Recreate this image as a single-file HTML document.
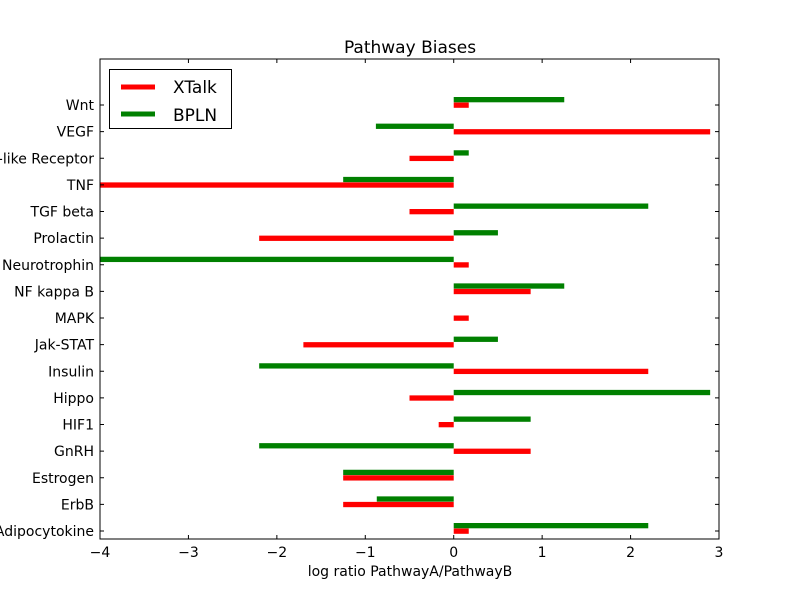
<!DOCTYPE html>
<html><head><meta charset="utf-8"><style>
body{margin:0;background:#fff;}
svg{display:block;font-family:"DejaVu Sans","Liberation Sans",sans-serif;}
</style></head><body>
<svg id="chart" width="800" height="600" viewBox="0 0 800 600">
<rect width="800" height="600" fill="#fff"/>
<g id="plot"></g>
</svg>
<script>
const categories=["Adipocytokine","ErbB","Estrogen","GnRH","HIF1","Hippo","Insulin","Jak-STAT","MAPK","NF kappa B","Neurotrophin","Prolactin","TGF beta","TNF","Toll-like Receptor","VEGF","Wnt"];
const xtalkValues=[0.17,-1.25,-1.25,0.87,-0.17,-0.5,2.2,-1.7,0.17,0.87,0.17,-2.2,-0.5,-4,-0.5,2.9,0.17];
const bplnValues=[2.2,-0.87,-1.25,-2.2,0.87,2.9,-2.2,0.5,0,1.25,-4,0.5,2.2,-1.25,0.17,-0.88,1.25];
const xTicks=[-4,-3,-2,-1,0,1,2,3];
const xTickLabels=["\u22124","\u22123","\u22122","\u22121","0","1","2","3"];
const NS="http://www.w3.org/2000/svg";
const L=100,R=719,T=59,B=539;
const xScale=v=>L+(v+4)/7*(R-L);
const yScale=i=>531-i*(531-105)/16;
const g=document.getElementById('plot');
function mk(tag,at){const e=document.createElementNS(NS,tag);for(const k in at)e.setAttribute(k,at[k]);g.appendChild(e);return e;}
const clip=mk('clipPath',{id:'c'});
const cr=document.createElementNS(NS,'rect');cr.setAttribute('x',L);cr.setAttribute('y',T);cr.setAttribute('width',R-L);cr.setAttribute('height',B-T);clip.appendChild(cr);
const bh=5.3;
categories.forEach((c,i)=>{
  const y=yScale(i);
  const x0=xScale(0);
  const gv=xScale(bplnValues[i]);
  const gb=mk('rect',{x:Math.min(x0,gv),y:y-8,width:Math.abs(gv-x0),height:bh,fill:'#008000','clip-path':'url(#c)'});
  
  
  const rv=xScale(xtalkValues[i]);
  const rb=mk('rect',{x:Math.min(x0,rv),y:y-2.5,width:Math.abs(rv-x0),height:bh,fill:'#ff0000','clip-path':'url(#c)'});
  
  
  mk('line',{x1:L,x2:L+4,y1:y,y2:y,stroke:'#000'});
  mk('line',{x1:R,x2:R-4,y1:y,y2:y,stroke:'#000'});
  const t=mk('text',{x:94,y:y+5,'text-anchor':'end','font-size':14});
  t.textContent=c;
  
  
});
xTicks.forEach((v,i)=>{
  const x=xScale(v);
  mk('line',{x1:x,x2:x,y1:B,y2:B-4,stroke:'#000'});
  mk('line',{x1:x,x2:x,y1:T,y2:T+4,stroke:'#000'});
  const t=mk('text',{x:x,y:557,'text-anchor':'middle','font-size':14});
  t.textContent=xTickLabels[i];
  
  
});
const frame=mk('rect',{x:L,y:T,width:R-L,height:B-T,fill:'none',stroke:'#000'});


const title=mk('text',{x:410,y:53,'text-anchor':'middle','font-size':17});
title.textContent='Pathway Biases';


const xt=mk('text',{x:410,y:576,'text-anchor':'middle','font-size':14});
xt.textContent='log ratio PathwayA/PathwayB';


const lg=mk('rect',{x:109.5,y:69.5,width:122,height:59,fill:'#fff',stroke:'#000'});


mk('line',{x1:121,x2:155,y1:87,y2:87,stroke:'#ff0000','stroke-width':5});
const l1=mk('text',{x:173,y:93,'font-size':17});
l1.textContent='XTalk';


mk('line',{x1:121,x2:155,y1:114,y2:114,stroke:'#008000','stroke-width':5});
const l2=mk('text',{x:173,y:121,'font-size':17});
l2.textContent='BPLN';


</script>
</body></html>
